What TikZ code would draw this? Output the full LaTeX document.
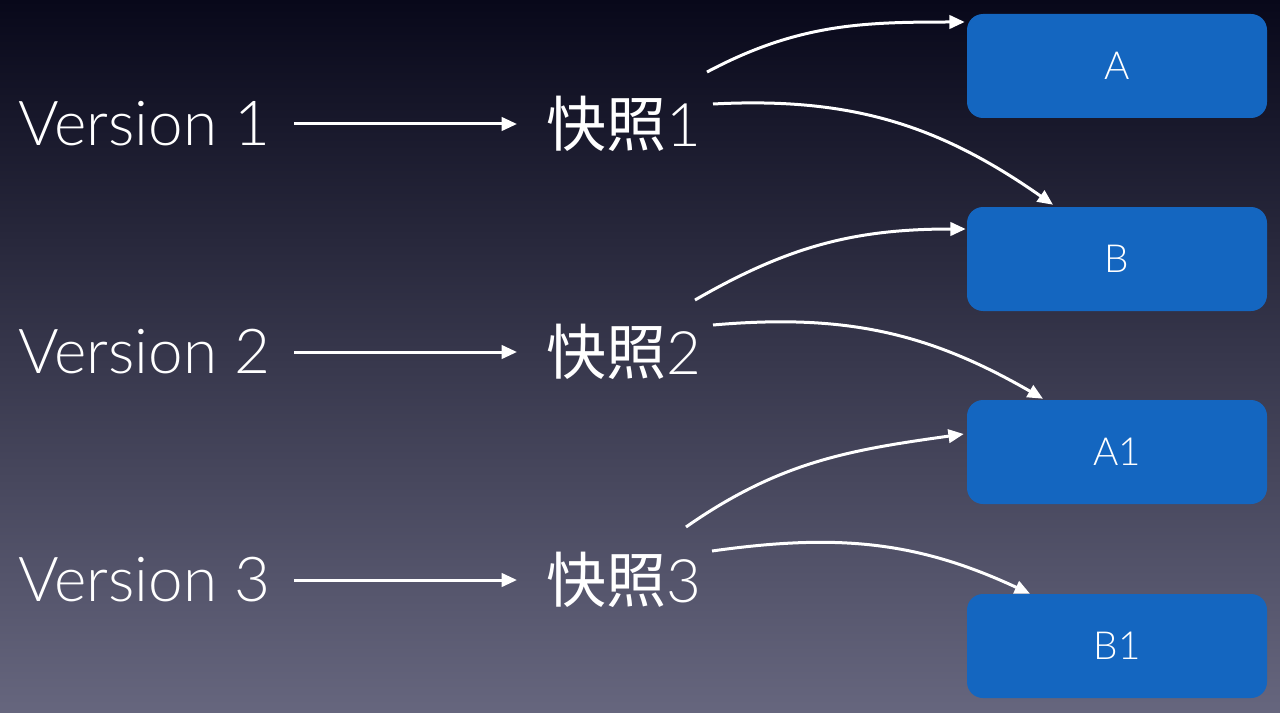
\documentclass[tikz,border=0pt]{standalone}
\usepackage{fontspec}
\setmainfont{Lato}[UprightFont=* Light]
\newfontfamily\cjk{Noto Sans CJK SC}
\usetikzlibrary{arrows.meta}
\definecolor{bgtop}{RGB}{8,8,26}
\definecolor{bgmid}{RGB}{42,42,72}
\definecolor{bgbot}{RGB}{102,102,126}
\definecolor{boxblue}{RGB}{20,102,192}
\tikzset{
  ver/.style={text=white, inner sep=0pt, font=\fontsize{46.5pt}{54pt}\selectfont},
  snap/.style={text=white, inner sep=0pt, font=\fontsize{45pt}{54pt}\selectfont},
  blk/.style={fill=boxblue, rounded corners=12pt, minimum width=225pt, minimum height=78pt,
              text=white, font=\fontsize{29pt}{34pt}\selectfont, inner sep=0pt},
  arr/.style={white, line width=2.25pt, -{Triangle[length=11.5pt,width=10pt]}}
}
\begin{document}
\begin{tikzpicture}[x=0.75pt,y=-0.75pt]
\useasboundingbox (0,0) rectangle (1280,713);
\shade[top color=bgtop, middle color=bgmid, bottom color=bgbot] (0,0) rectangle (1280,713);
% left labels
\node[ver] (v1) at (144,124) {Version 1};
\node[ver] (v2) at (144,352) {Version 2};
\node[ver] (v3) at (144,580) {Version 3};
% snapshots
\node[snap] (s1) at (624,124) {{\cjk 快照}1};
\node[snap] (s2) at (624,352) {{\cjk 快照}2};
\node[snap] (s3) at (624,580) {{\cjk 快照}3};
% boxes
\node[blk] (A)  at (1117,66)  {A};
\node[blk] (B)  at (1117,259) {B};
\node[blk] (A1) at (1117,452) {A1};
\node[blk] (B1) at (1117,646) {B1};
% horizontal arrows
\draw[arr] ([xshift=18]v1.east) -- ([xshift=-22]s1.west);
\draw[arr] ([xshift=18]v2.east) -- ([xshift=-22]s2.west);
\draw[arr] ([xshift=18]v3.east) -- ([xshift=-22]s3.west);
% curves
\draw[arr] ([shift={(83,-52)}]s1.center) to[out=28,in=180] ([shift={(-2,-44)}]A.west);
\draw[arr] ([shift={(89,-20)}]s1.center) to[out=3,in=145] ([shift={(-64,-2)}]B.north);
\draw[arr] ([shift={(71,-52)}]s2.center) to[out=30,in=180] ([shift={(-1,-30)}]B.west);
\draw[arr] ([shift={(89,-27)}]s2.center) to[out=5,in=150] ([shift={(-74,-1)}]A1.north);
\draw[arr] ([shift={(62,-53)}]s3.center) to[out=35,in=188] ([shift={(-3,-18)}]A1.west);
\draw[arr] ([shift={(88,-29)}]s3.center) to[out=8,in=155] ([shift={(-87,0)}]B1.north);
\end{tikzpicture}
\end{document}
